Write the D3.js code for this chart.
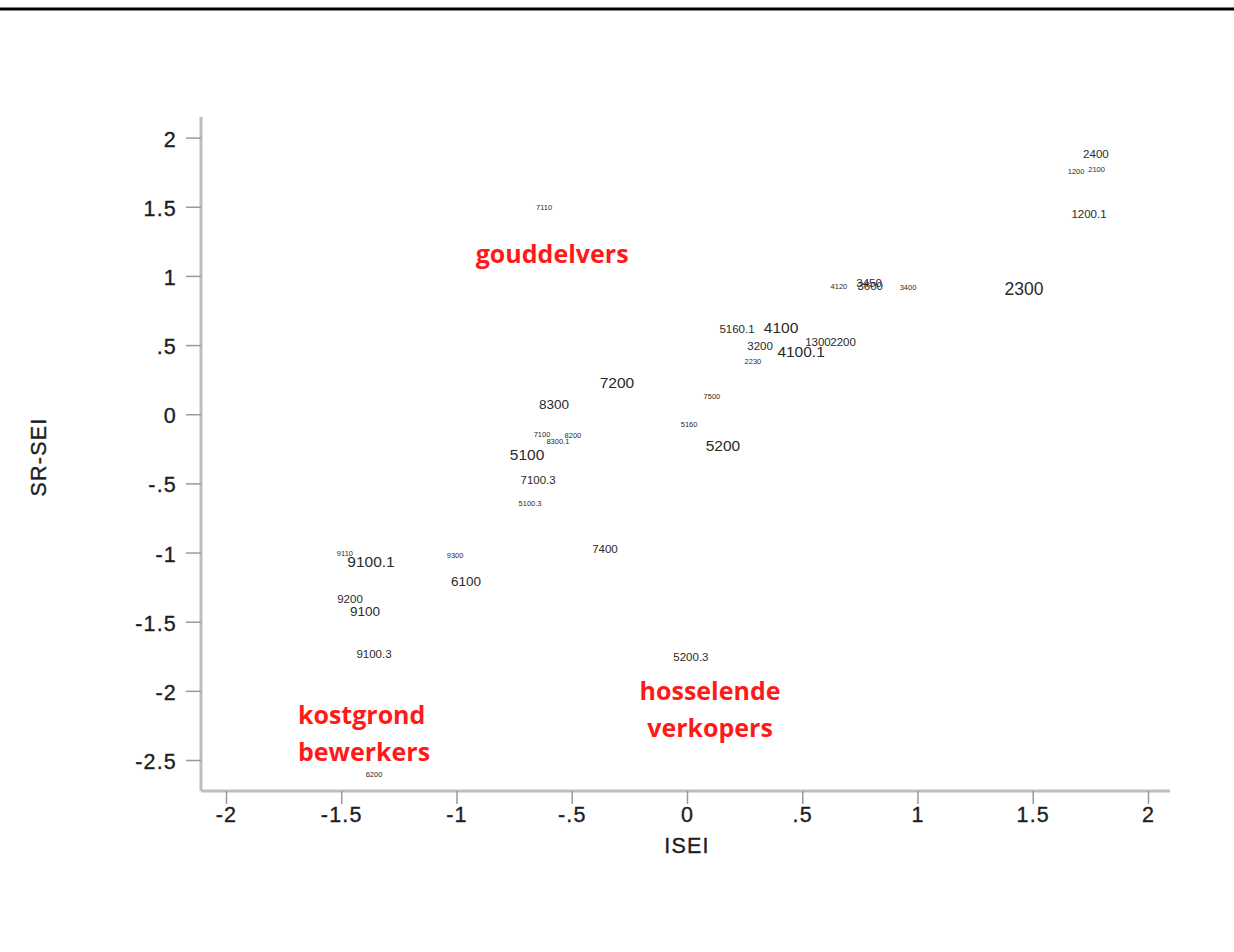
<!DOCTYPE html>
<html>
<head>
<meta charset="utf-8">
<script src="https://cdn.jsdelivr.net/npm/d3@7"></script>
<style>
  html, body { margin: 0; padding: 0; background: #fff; }
  svg { display: block; }
</style>
</head>
<body>
<svg id="chart" width="1234" height="952"></svg>
<script>
// Occupation codes placed by ISEI (x) and SR-SEI (y)
const codes = ["2400", "1200", "2100", "1200.1", "7110", "4120", "3450", "3600", "3400", "2300",
  "5160.1", "4100", "3200", "4100.1", "1300", "2200", "2230", "7200", "7500", "8300",
  "5160", "5200", "7100", "8200", "8300.1", "5100", "7100.3", "5100.3", "7400", "9300",
  "9110", "9100.1", "6100", "9200", "9100", "9100.3", "5200.3", "6200"];
const isei = [1.774, 1.688, 1.777, 1.744, -0.620, 0.659, 0.790, 0.795, 0.959, 1.462,
  0.217, 0.408, 0.317, 0.495, 0.568, 0.677, 0.286, -0.304, 0.108, -0.577,
  0.009, 0.156, -0.629, -0.495, -0.560, -0.694, -0.646, -0.681, -0.356, -1.006,
  -1.484, -1.371, -0.959, -1.462, -1.397, -1.358, 0.017, -1.358];
const srsei = [1.878, 1.754, 1.768, 1.451, 1.494, 0.922, 0.950, 0.930, 0.915, 0.908,
  0.619, 0.626, 0.496, 0.452, 0.524, 0.524, 0.380, 0.228, 0.127, 0.069,
  -0.076, -0.228, -0.148, -0.156, -0.199, -0.293, -0.474, -0.648, -0.973, -1.024,
  -1.010, -1.067, -1.211, -1.335, -1.429, -1.733, -1.755, -2.603];
// label size class per code (1 = smallest, 5 = largest)
const sizeClass = [2, 1, 1, 2, 1, 1, 2, 2, 1, 5,
  2, 4, 2, 4, 2, 2, 1, 4, 1, 3,
  1, 4, 1, 1, 1, 4, 2, 1, 2, 1,
  1, 4, 3, 2, 3, 2, 2, 1];

const xTicks = [-2, -1.5, -1, -0.5, 0, 0.5, 1, 1.5, 2];
const yTicks = [2, 1.5, 1, 0.5, 0, -0.5, -1, -1.5, -2, -2.5];

// Quadrant annotations
const notes = [
  { lines: ["gouddelvers"], x: -0.585, y: 1.155, anchor: "middle" },
  { lines: ["kostgrond", "bewerkers"], x: -1.688, y: -2.175, anchor: "start" },
  { lines: ["hosselende", "verkopers"], x: 0.10, y: -2.0, anchor: "middle" }
];

const svg = d3.select("#chart");
const x = d3.scaleLinear().domain([-2, 2]).range([226, 1148]);
const y = d3.scaleLinear().domain([-2.5, 2]).range([760, 137.6]);
const fontPx = d3.scaleOrdinal().domain([1, 2, 3, 4, 5]).range([7.5, 11.5, 13.5, 15.5, 17.5]);

// rule across the top of the page
svg.append("line").attr("x1", 0).attr("x2", 1234).attr("y1", 9).attr("y2", 9)
  .attr("stroke", "#000").attr("stroke-width", 3);

const fmt = v => {
  if (v === 0) return "0";
  return String(v).replace(/^(-?)0\./, "$1.");
};

const axisFont = "'Liberation Sans', Arial, sans-serif";

// x axis
const xAxis = svg.append("g").attr("transform", "translate(0,791)")
  .call(d3.axisBottom(x).tickValues(xTicks).tickFormat(fmt).tickSize(13).tickSizeOuter(0));
xAxis.select(".domain").attr("d", "M201,0H1170").attr("stroke", "#bdbdbd").attr("stroke-width", 3);
xAxis.selectAll(".tick line").attr("stroke", "#9a9a9a").attr("stroke-width", 1.5);
xAxis.selectAll(".tick text").attr("font-family", axisFont).attr("font-size", 21.5)
  .attr("letter-spacing", 1.2).attr("fill", "#1e1e1e").attr("stroke", "#1e1e1e").attr("stroke-width", 0.35)
  .attr("y", 16).attr("dy", "0.71em");

// y axis
const yAxis = svg.append("g").attr("transform", "translate(201,0)")
  .call(d3.axisLeft(y).tickValues(yTicks).tickFormat(fmt).tickSize(15).tickSizeOuter(0));
yAxis.select(".domain").attr("d", "M0,117V791").attr("stroke", "#bdbdbd").attr("stroke-width", 3);
yAxis.selectAll(".tick line").attr("stroke", "#9a9a9a").attr("stroke-width", 1.5);
yAxis.selectAll(".tick text").attr("font-family", axisFont).attr("font-size", 21.5)
  .attr("letter-spacing", 1.2).attr("fill", "#1e1e1e").attr("stroke", "#1e1e1e").attr("stroke-width", 0.35)
  .attr("x", -24).attr("dy", "0.4em");

// axis titles
svg.append("text").attr("x", 687).attr("y", 853).attr("text-anchor", "middle")
  .attr("font-family", axisFont).attr("font-size", 21.5).attr("letter-spacing", 1.2)
  .attr("fill", "#1e1e1e").attr("stroke", "#1e1e1e").attr("stroke-width", 0.35).text("ISEI");
svg.append("text").attr("transform", "translate(46,457) rotate(-90)").attr("text-anchor", "middle")
  .attr("font-family", axisFont).attr("font-size", 21.5).attr("letter-spacing", 1.2)
  .attr("fill", "#1e1e1e").attr("stroke", "#1e1e1e").attr("stroke-width", 0.35).text("SR-SEI");

// occupation labels
svg.append("g").selectAll("text").data(codes).join("text")
  .attr("x", (d, i) => x(isei[i]))
  .attr("y", (d, i) => y(srsei[i]))
  .attr("text-anchor", "middle")
  .attr("dominant-baseline", "central")
  .attr("font-family", axisFont)
  .attr("font-size", (d, i) => fontPx(sizeClass[i]))
  .attr("fill", "#2a2a2a")
  .text(d => d);

// quadrant annotations
notes.forEach(n => {
  const t = svg.append("text")
    .attr("font-family", "'Open Sans', 'Noto Sans', sans-serif")
    .attr("font-weight", "bold").attr("font-size", 25).attr("fill", "#ff1a1a")
    .attr("text-anchor", n.anchor);
  n.lines.forEach((line, k) => {
    t.append("tspan").attr("x", x(n.x)).attr("y", y(n.y) + k * 37).attr("dy", "0.35em").text(line);
  });
});
</script>
</body>
</html>
